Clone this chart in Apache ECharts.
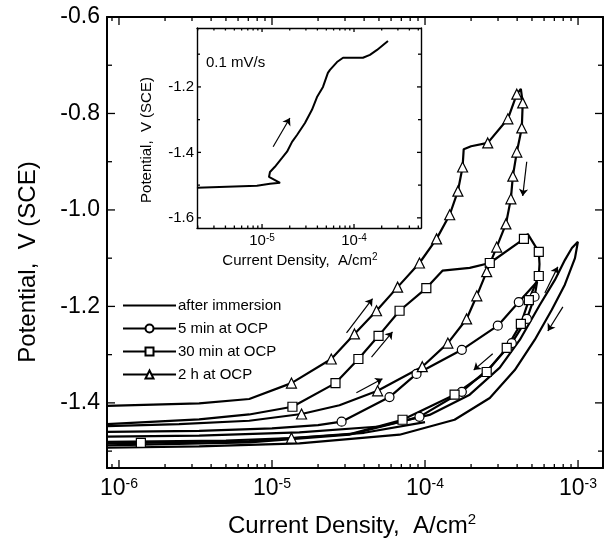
<!DOCTYPE html>
<html><head><meta charset="utf-8">
<script src="https://cdn.jsdelivr.net/npm/echarts@6/dist/echarts.min.js"></script>
<style>html,body{margin:0;padding:0;background:#fff}#c{width:608px;height:549px}</style>
</head><body><div id="c"></div>
<script>
// ---------------- DATA (current density A/cm2, potential V vs SCE) ----------------
const afterFwd = [[8.35e-7,-1.470],[3.34e-6,-1.468],[1.51e-5,-1.461],[5.05e-5,-1.449],[1.07e-4,-1.425],[1.96e-4,-1.383],[3.08e-4,-1.327],[4.17e-4,-1.269],[5.62e-4,-1.197],[7.06e-4,-1.145],[8.2e-4,-1.104],[9.12e-4,-1.079],[9.98e-4,-1.066]];
const afterRev = [[9.55e-4,-1.100],[8.2e-4,-1.155],[6.74e-4,-1.207],[5.22e-4,-1.269],[3.86e-4,-1.332],[2.65e-4,-1.390],[1.56e-4,-1.435],[6.82e-5,-1.466],[1.51e-5,-1.484],[3.34e-6,-1.490],[8.35e-7,-1.493]];

const min5Fwd = [[8.35e-7,-1.460],[3.34e-6,-1.458],[1e-5,-1.453],[2e-5,-1.446],[2.85e-5,-1.439],[5.86e-5,-1.388],[8.8e-5,-1.340],[1.74e-4,-1.290],[2.99e-4,-1.240],[4.1e-4,-1.191],[5.4e-4,-1.149]];
const min5FwdMarks = [4,5,6,7,8,9];
const min5Rev = [[5.2e-4,-1.180],[4.63e-4,-1.226],[3.69e-4,-1.276],[2.65e-4,-1.327],[1.74e-4,-1.377],[9.2e-5,-1.429],[3.2e-5,-1.466],[7.1e-6,-1.482],[8.35e-7,-1.488]];
const min5RevMarks = [0,1,2,4,5];

const min30Fwd = [[8.35e-7,-1.444],[3.34e-6,-1.434],[7.1e-6,-1.424],[1.36e-5,-1.408],[2.6e-5,-1.359],[3.67e-5,-1.309],[4.97e-5,-1.261],[6.82e-5,-1.209],[1.02e-4,-1.162],[1.30e-4,-1.126],[1.96e-4,-1.120],[2.65e-4,-1.110],[4.43e-4,-1.060],[4.70e-4,-1.050]];
const min30FwdMarks = [3,4,5,6,7,8,11,12];
const min30Rev = [[5.54e-4,-1.087],[5.6e-4,-1.112],[5.54e-4,-1.137],[4.77e-4,-1.187],[4.23e-4,-1.236],[3.42e-4,-1.286],[2.53e-4,-1.336],[1.56e-4,-1.383],[7.13e-5,-1.435],[3.2e-5,-1.465],[7.1e-6,-1.479],[1.39e-6,-1.483],[8.35e-7,-1.484]];
const min30RevMarks = [0,2,3,4,5,6,7,8,11];

const h2Fwd = [[8.35e-7,-1.406],[3.34e-6,-1.401],[7.1e-6,-1.392],[1.34e-5,-1.359],[2.44e-5,-1.309],[3.46e-5,-1.257],[4.82e-5,-1.209],[6.62e-5,-1.160],[9.2e-5,-1.110],[1.19e-4,-1.060],[1.45e-4,-1.010],[1.64e-4,-0.961],[1.76e-4,-0.911],[1.79e-4,-0.874],[2.0e-4,-0.868],[2.57e-4,-0.861],[3.48e-4,-0.811],[3.98e-4,-0.760],[4.23e-4,-0.749]];
const h2FwdMarks = [3,4,5,6,7,8,9,10,11,12,15,16,17];
const h2Rev = [[4.35e-4,-0.778],[4.29e-4,-0.830],[3.98e-4,-0.880],[3.75e-4,-0.930],[3.64e-4,-0.977],[3.38e-4,-1.029],[2.94e-4,-1.077],[2.53e-4,-1.128],[2.18e-4,-1.178],[1.87e-4,-1.226],[1.41e-4,-1.276],[9.6e-5,-1.325],[4.9e-5,-1.375],[2.76e-5,-1.405],[1.56e-5,-1.423],[7.1e-6,-1.437],[2.47e-6,-1.444],[8.35e-7,-1.448]];
const h2RevMarks = [0,1,2,3,4,5,6,7,8,9,10,11,12,14];
const h2Low = [[8.35e-7,-1.481],[5e-6,-1.478],[1.34e-5,-1.473],[4e-5,-1.462],[1e-4,-1.440]];
const h2LowMarks = [2];

const insetCurve = [[1.96e-6,-1.508],[8.8e-6,-1.502],[1.22e-5,-1.496],[1.57e-5,-1.493],[1.19e-5,-1.475],[1.22e-5,-1.460],[1.38e-5,-1.444],[1.65e-5,-1.417],[1.87e-5,-1.398],[2.12e-5,-1.368],[2.4e-5,-1.347],[2.93e-5,-1.310],[3.49e-5,-1.270],[3.96e-5,-1.231],[4.6e-5,-1.200],[5.2e-5,-1.157],[5.48e-5,-1.148],[6.53e-5,-1.124],[7.6e-5,-1.111],[1.25e-4,-1.111],[1.49e-4,-1.102],[1.78e-4,-1.087],[2.34e-4,-1.060]];

const mainArrows = [
  [[4.62e-4,-0.900],[4.35e-4,-0.971]],
  [[3.07e-5,-1.255],[4.54e-5,-1.184]],
  [[4.47e-5,-1.305],[6.13e-5,-1.253]],
  [[3.56e-5,-1.379],[5.27e-5,-1.350]],
  [[6.07e-4,-1.172],[7.38e-4,-1.118]],
  [[7.96e-4,-1.201],[6.35e-4,-1.251]],
  [[2.77e-4,-1.298],[2.08e-4,-1.332]]
];
const insetArrows = [[[1.32e-5,-1.383],[2.01e-5,-1.295]]];

const seriesNames = ['after immersion','5 min at OCP','30 min at OCP','2 h at OCP'];
const mainXTicks = [1e-6,1e-5,1e-4,1e-3];
const mainYTicks = [-1.4,-1.2,-1.0,-0.8,-0.6];
const mainYMinor = [-1.5,-1.3,-1.1,-0.9,-0.7];
const insetXTicks = [1e-5,1e-4];
const insetYTicks = [-1.6,-1.4,-1.2];
const insetYMinor = [-1.5,-1.3,-1.1];
const MAIN_X = [8.35e-7, 1.456e-3], MAIN_Y = [-1.535, -0.6];
const INSET_X = [1.963e-6, 5.35e-4], INSET_Y = [-1.631, -1.02];

// ---------------- CHART ----------------
const FONT = '"Liberation Sans", Arial, sans-serif';
const chart = echarts.init(document.getElementById('c'));
function minorLogValues(lo, hi) {
  const out = [];
  for (let n = -9; n <= 0; n++) for (let k = 2; k <= 9; k++) {
    const v = Number((k * Math.pow(10, n)).toPrecision(3)); if (v > lo && v < hi) out.push(v);
  }
  return out;
}
function xLog(grid, pos, range, lw, label) {
  return {type: 'log', logBase: 10, gridIndex: grid, position: pos, min: range[0], max: range[1],
    axisLine: {show: true, onZero: false, lineStyle: {color: '#000', width: lw}},
    axisTick: {show: false},
    axisLabel: label ? {show: true, margin: label.margin, showMinLabel: false, showMaxLabel: false,
      formatter: v => '{b|10}{e|' + Math.round(Math.log10(v)) + '}',
      rich: {b: {fontSize: label.fs, fontFamily: FONT, color: '#000'}, e: {fontSize: label.es, fontFamily: FONT, color: '#000', verticalAlign: 'top'}}} : {show: false},
    splitLine: {show: false}, minorTick: {show: false}};
}
function yVal(grid, pos, range, ticks, lw, label) {
  return {type: 'value', gridIndex: grid, position: pos, min: range[0], max: range[1],
    axisLine: {show: true, onZero: false, lineStyle: {color: '#000', width: lw}},
    axisTick: {show: false},
    axisLabel: label ? {show: true, customValues: ticks, margin: label.margin, fontSize: label.fs, fontFamily: FONT, color: '#000', formatter: v => v.toFixed(1)} : {show: false},
    splitLine: {show: false}};
}
function pts(fwd, fm, rev, rm) {
  const a = fwd.map((p, i) => fm.includes(i) ? {value: p} : {value: p, symbol: 'none'});
  const b = rev ? rev.map((p, i) => rm.includes(i) ? {value: p} : {value: p, symbol: 'none'}) : [];
  return a.concat(b);
}
function lineSeries(name, data, symbol, size, xi, yi, markerColor, markerBorder) {
  return {type: 'line', name: name, xAxisIndex: xi, yAxisIndex: yi, data: data,
    symbol: symbol, symbolSize: size, showAllSymbol: true,
    lineStyle: {color: '#000', width: 2.2}, itemStyle: {color: markerColor || '#fff', borderColor: markerBorder || '#000', borderWidth: 1.2}};
}
function arrowSeries(arr, xi, yi) {
  return {type: 'lines', coordinateSystem: 'cartesian2d', xAxisIndex: xi, yAxisIndex: yi,
    data: arr.map(c => ({coords: c})), symbol: ['none', 'arrow'], symbolSize: 7,
    lineStyle: {color: '#000', width: 1.2, opacity: 1, curveness: 0}};
}

const option = {
  animation: false,
  grid: [
    {left: 107, top: 17, width: 496, height: 451},
    {left: 197, top: 28, width: 224, height: 200, show: true, backgroundColor: '#fff', borderWidth: 0, z: 5}
  ],
  xAxis: [
    xLog(0, 'bottom', MAIN_X, 2, {fs: 23, es: 14, margin: 9}),
    xLog(0, 'top', MAIN_X, 2, null),
    Object.assign(xLog(1, 'bottom', INSET_X, 1.4, {fs: 15, es: 10, margin: 5}), {z: 6}),
    Object.assign(xLog(1, 'top', INSET_X, 1.4, null), {z: 6})
  ],
  yAxis: [
    yVal(0, 'left', MAIN_Y, mainYTicks, 2, {fs: 23, margin: 7}),
    yVal(0, 'right', MAIN_Y, mainYTicks, 2, null),
    Object.assign(yVal(1, 'left', INSET_Y, insetYTicks, 1.4, {fs: 15, margin: 3}), {z: 6}),
    Object.assign(yVal(1, 'right', INSET_Y, insetYTicks, 1.4, null), {z: 6})
  ],
  legend: {
    data: seriesNames, orient: 'vertical', left: 122, top: 298, padding: 0,
    itemWidth: 53, itemHeight: 10, itemGap: 8,
    textStyle: {fontSize: 15, fontFamily: FONT, color: '#000', padding: [0, 0, 0, -3]}
  },
  series: [
    lineSeries(seriesNames[0], pts(afterFwd, [], afterRev, []), 'circle', 0, 0, 0, 'rgba(0,0,0,0)', 'rgba(0,0,0,0)'),
    lineSeries(seriesNames[1], pts(min5Fwd, min5FwdMarks, min5Rev, min5RevMarks), 'circle', 9, 0, 0),
    lineSeries(seriesNames[2], pts(min30Fwd, min30FwdMarks, min30Rev, min30RevMarks), 'rect', 9, 0, 0),
    lineSeries(seriesNames[3], pts(h2Fwd, h2FwdMarks, h2Rev, h2RevMarks), 'triangle', 10, 0, 0),
    lineSeries(seriesNames[3], pts(h2Low, h2LowMarks, null, null), 'triangle', 10, 0, 0),
    arrowSeries(mainArrows, 0, 0),
    Object.assign(lineSeries('inset', insetCurve.map(p => ({value: p})), 'none', 0, 2, 2), {z: 7, lineStyle: {color: '#000', width: 2}}),
    Object.assign(arrowSeries(insetArrows, 2, 2), {z: 7})
  ]
};
chart.setOption(option);

// ---- text elements ----
const texts = [
  {type: 'text', x: 352, y: 526, z: 100, style: {text: '{a|Current Density,  A/cm}{s|2}', align: 'center', verticalAlign: 'middle',
    rich: {a: {fontSize: 24, fontFamily: FONT, fill: '#000', lineHeight: 28}, s: {fontSize: 15, fontFamily: FONT, fill: '#000', verticalAlign: 'top', lineHeight: 15}}}},
  {type: 'text', x: 28, y: 262, rotation: Math.PI / 2, z: 100, style: {text: 'Potential,  V (SCE)', align: 'center', verticalAlign: 'middle', fontSize: 24, fontFamily: FONT, fill: '#000'}},
  {type: 'text', x: 300, y: 261, z: 100, style: {text: '{a|Current Density,  A/cm}{s|2}', align: 'center', verticalAlign: 'middle',
    rich: {a: {fontSize: 15, fontFamily: FONT, fill: '#000', lineHeight: 18}, s: {fontSize: 10, fontFamily: FONT, fill: '#000', verticalAlign: 'top', lineHeight: 10}}}},
  {type: 'text', x: 147, y: 140, rotation: Math.PI / 2, z: 100, style: {text: 'Potential,  V (SCE)', align: 'center', verticalAlign: 'middle', fontSize: 15, fontFamily: FONT, fill: '#000'}},
  {type: 'text', x: 206, y: 63, z: 100, style: {text: '0.1 mV/s', align: 'left', verticalAlign: 'middle', fontSize: 15, fontFamily: FONT, fill: '#000'}}
];

// ---- inward tick marks on all four sides, positioned through the axes' scales ----
function tickLines(xi, yi, xr, yr, xMaj, xMin, yMaj, yMin, lens) {
  const f = {xAxisIndex: xi, yAxisIndex: yi};
  const els = [];
  const add = (x1, y1, x2, y2) => els.push({type: 'line', z: 100, silent: true,
    shape: {x1: x1, y1: y1, x2: x2, y2: y2}, style: {stroke: '#000', lineWidth: 1.3}});
  [[xMaj, lens[0]], [xMin, lens[1]]].forEach(([vals, L]) => vals.forEach(v => {
    const b = chart.convertToPixel(f, [v, yr[0]]), t = chart.convertToPixel(f, [v, yr[1]]);
    if (!b || !t) return;
    add(b[0], b[1], b[0], b[1] - L);
    add(t[0], t[1], t[0], t[1] + L);
  }));
  [[yMaj, lens[2]], [yMin, lens[3]]].forEach(([vals, L]) => vals.forEach(v => {
    const l = chart.convertToPixel(f, [xr[0], v]), r = chart.convertToPixel(f, [xr[1], v]);
    if (!l || !r) return;
    add(l[0], l[1], l[0] + L, l[1]);
    add(r[0], r[1], r[0] - L, r[1]);
  }));
  return els;
}
const ticks = tickLines(0, 0, MAIN_X, MAIN_Y, mainXTicks, minorLogValues(MAIN_X[0], MAIN_X[1]), mainYTicks, mainYMinor, [8, 4, 8, 5])
  .concat(tickLines(2, 2, INSET_X, INSET_Y, insetXTicks, minorLogValues(INSET_X[0], INSET_X[1]), insetYTicks, insetYMinor, [4, 2.5, 4, 3]));

chart.setOption({graphic: {elements: texts.concat(ticks)}});
</script></body></html>
